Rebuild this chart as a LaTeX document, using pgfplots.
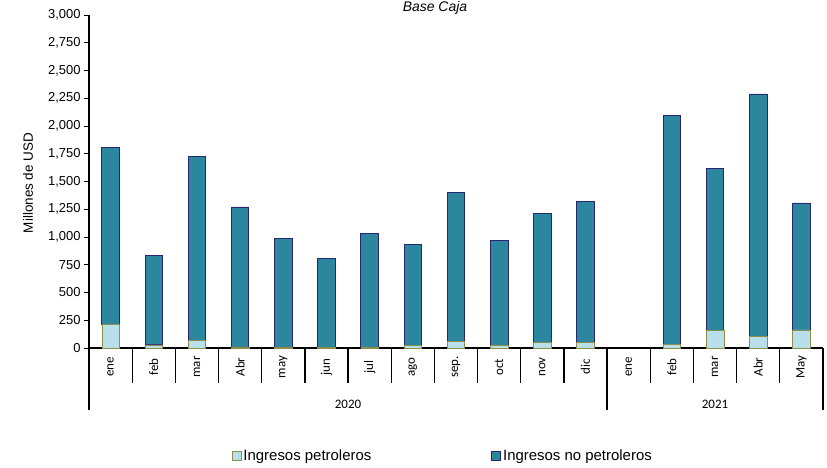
\documentclass[border=0pt]{standalone}
\usepackage{fontspec}
\setmainfont{Liberation Sans}
\newfontfamily\calfont{Carlito}
\usepackage{pgfplots}
\pgfplotsset{compat=1.18}
\definecolor{petro}{HTML}{B9E0EA}
\definecolor{petroedge}{HTML}{8E8E4A}
\definecolor{nopetro}{HTML}{2C869D}
\definecolor{nopetroedge}{HTML}{262673}

\begin{document}
\begin{tikzpicture}
\useasboundingbox (-89bp,-120bp) rectangle (738bp,348bp);
\begin{axis}[
    at={(0,0)}, anchor=south west,
    scale only axis, width=734bp, height=333bp,
    xmin=-0.5, xmax=16.5, ymin=0, ymax=3000,
    ybar stacked, bar width=17.5bp,
    axis x line*=bottom, axis y line*=left, axis line style={-},
    x axis line style={line width=1.6bp},
    y axis line style={line width=1.1bp},
    xtick=\empty,
    ytick={0,250,...,3000},
    tick align=outside, major tick length=5bp,
    ytick style={line width=1bp, black},
    yticklabel style={font=\fontsize{13}{15}\selectfont},
    /pgf/number format/1000 sep={,},
    /pgf/number format/assume math mode=true,
    clip=false,
    legend columns=2,
    legend style={draw=none, fill=none, at={(0.19,-0.324)}, anchor=west,
        font=\fontsize{15}{17}\selectfont,
        /tikz/every even column/.append style={column sep=118bp}},
    legend image code/.code={\draw[#1,line width=0.8bp] (0bp,-4.5bp) rectangle (9bp,4.5bp);},
]
% Ingresos petroleros
\addplot[fill=petro, draw=petroedge, line width=0.6bp] coordinates {
  (0,211) (1,28) (2,72) (3,8) (4,8) (5,6) (6,4) (7,25) (8,58) (9,25) (10,54) (11,54)
  (13,35) (14,160) (15,108) (16,163)
};
\addlegendentry{Ingresos petroleros}
% Ingresos no petroleros
\addplot[fill=nopetro, draw=nopetroedge, line width=0.8bp] coordinates {
  (0,1599) (1,806) (2,1654) (3,1263) (4,978) (5,804) (6,1032) (7,909) (8,1345) (9,942) (10,1160) (11,1266)
  (13,2064) (14,1457) (15,2181) (16,1144)
};
\addlegendentry{Ingresos no petroleros}
\end{axis}

% separadores de categorias
\foreach \k in {1,...,11,13,14,15,16}
  \draw[line width=1.3bp] ({\k*43.176bp},0) -- ++(0,-35bp);
\foreach \k in {0,12,17}
  \draw[line width=1.3bp] ({\k*43.176bp},0) -- ++(0,-62bp);
\foreach \m [count=\i from 0] in {ene,feb,mar,Abr,may,jun,jul,ago,sep.,oct,nov,dic,ene,feb,mar,Abr,May}
  \node[rotate=90, font=\calfont\fontsize{13}{15}\selectfont] at ({(\i+0.5)*43.176bp},-19bp) {\m};
\node[font=\calfont\fontsize{13}{15}\selectfont] at (259bp,-56bp) {2020};
\node[font=\calfont\fontsize{13}{15}\selectfont] at (626bp,-56bp) {2021};

\node[rotate=90, font=\fontsize{13.5}{15}\selectfont] at (-61bp,165bp) {Millones de USD};
\node[font=\itshape\fontsize{14}{16}\selectfont, anchor=base] at (346bp,336bp) {Base Caja};
\end{tikzpicture}
\end{document}
